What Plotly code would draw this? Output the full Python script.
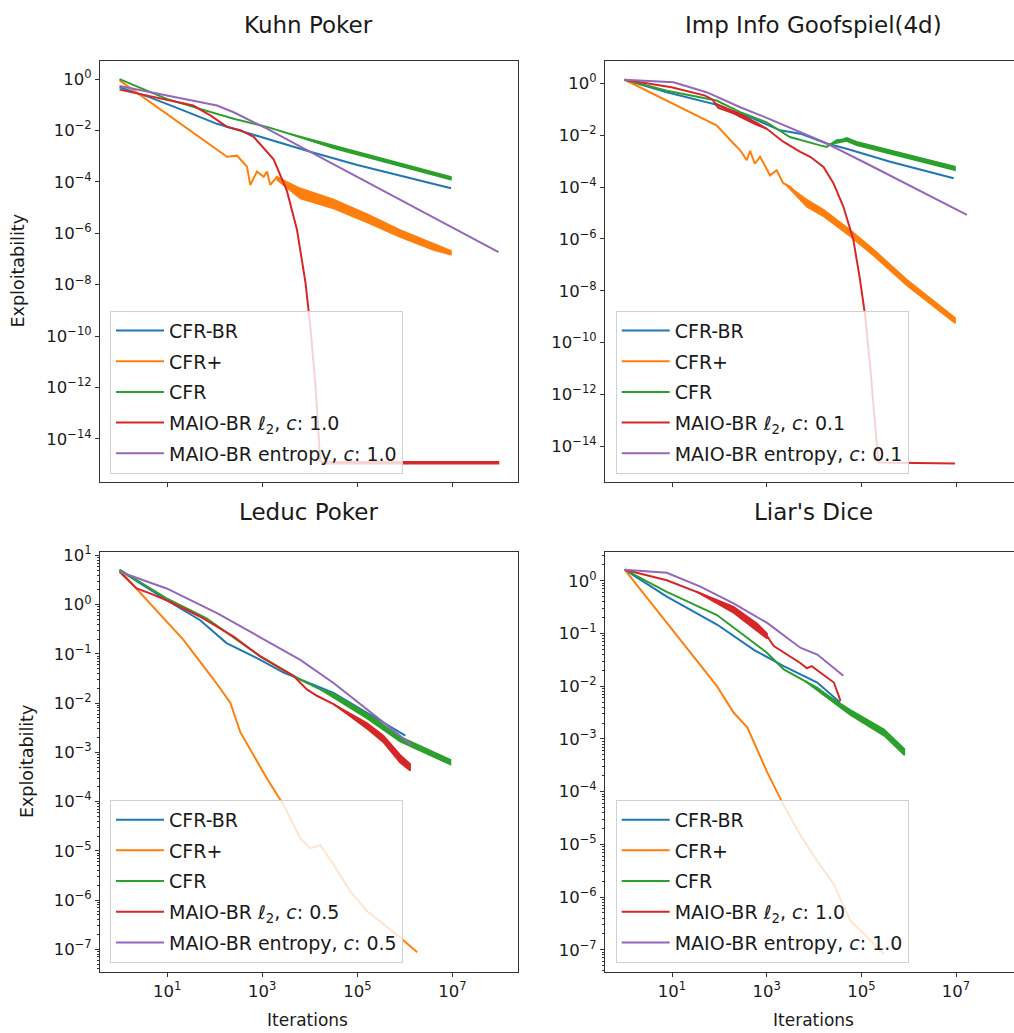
import plotly.graph_objects as go

# ---------------- data: log10(iterations) / log10(exploitability) ----------------
# Kuhn Poker
KUHN_CFRBR_X = [0, 0.64, 1.34, 2.05, 2.4, 3.1, 4.01, 5.0, 6.0, 6.97]
KUHN_CFRBR_Y = [-0.32, -0.71, -1.22, -1.74, -1.93, -2.32, -2.83, -3.34, -3.8, -4.25]
KUHN_CFRP_X = [0, 2.26, 2.47, 2.68, 2.75, 2.89, 3.03, 3.10, 3.17, 3.31, 3.45, 3.8, 4.5, 5.2, 5.9, 6.6, 6.97]
KUHN_CFRP_Y = [-0.05, -3.02, -2.98, -3.41, -4.12, -3.6, -3.8, -3.6, -4.12, -3.8, -4.1, -4.44, -4.85, -5.41, -6.01, -6.53, -6.76]
KUHN_CFR_X = [0, 0.99, 1.69, 2.4, 3.1, 4.01, 5.2, 6.97]
KUHN_CFR_Y = [0, -0.77, -1.16, -1.54, -1.86, -2.38, -3.0, -3.86]
KUHN_L2_X = [0, 0.99, 1.55, 1.91, 2.26, 2.54, 2.82, 3.24, 3.52, 3.73, 3.91, 4.01, 4.12, 4.22, 4.3, 7.97]
KUHN_L2_Y = [-0.41, -0.8, -1.03, -1.41, -1.86, -1.99, -2.25, -3.12, -4.35, -5.85, -7.92, -9.59, -11.9, -14.87, -14.93, -14.93]
KUHN_ENT_X = [0, 0.99, 1.69, 2.05, 2.4, 2.75, 3.1, 4.01, 5.0, 6.0, 7.0, 7.97]
KUHN_ENT_Y = [-0.27, -0.64, -0.9, -1.03, -1.29, -1.61, -1.93, -2.83, -3.8, -4.78, -5.75, -6.73]
KUHN_CFRP_BAND_X = [3.3, 3.8, 4.5, 5.2, 5.9, 6.6, 6.97]
KUHN_CFRP_BAND_HI = [-3.80, -4.25, -4.68, -5.25, -5.87, -6.41, -6.68]
KUHN_CFRP_BAND_LO = [-3.90, -4.65, -5.04, -5.57, -6.15, -6.65, -6.84]
KUHN_CFR_BAND_X = [3.6, 4.5, 5.2, 6.97]
KUHN_CFR_BAND_HI = [-2.14, -2.59, -2.94, -3.80]
KUHN_CFR_BAND_LO = [-2.14, -2.69, -3.06, -3.92]
KUHN_L2_BAND_X = [4.25, 7.97]
KUHN_L2_BAND_HI = [-14.89, -14.89]
KUHN_L2_BAND_LO = [-14.97, -14.97]

# Imp Info Goofspiel(4d)
GOOF_CFRBR_X = [0, 0.89, 1.87, 2.44, 2.72, 3.28, 3.71, 4.27, 4.69, 5.61, 6.95]
GOOF_CFRBR_Y = [0.14, -0.34, -0.79, -1.17, -1.36, -1.81, -1.94, -2.32, -2.52, -3.02, -3.66]
GOOF_CFRP_X = [0, 1.94, 2.30, 2.44, 2.58, 2.65, 2.75, 2.86, 3.0, 3.07, 3.21, 3.35, 3.49, 3.85, 4.2, 4.76, 5.26, 5.96, 6.98]
GOOF_CFRP_Y = [0.14, -1.62, -2.32, -2.58, -2.96, -2.6, -3.1, -2.83, -3.3, -3.55, -3.35, -3.85, -3.98, -4.62, -5.0, -5.77, -6.53, -7.68, -9.15]
GOOF_CFR_X = [0, 0.89, 1.94, 2.44, 3.0, 3.49, 4.13, 4.27, 4.48, 4.69, 4.9, 5.61, 6.98]
GOOF_CFR_Y = [0.14, -0.28, -0.66, -1.11, -1.5, -2.07, -2.39, -2.45, -2.19, -2.16, -2.32, -2.64, -3.28]
GOOF_L2_X = [0, 0.64, 0.99, 1.70, 1.85, 1.98, 2.44, 3.0, 3.35, 3.71, 3.92, 4.2, 4.41, 4.62, 4.83, 4.97, 5.08, 5.19, 5.30, 5.36, 6.98]
GOOF_L2_Y = [0.14, -0.03, -0.15, -0.47, -0.62, -0.95, -1.24, -1.75, -2.25, -2.64, -2.83, -3.22, -3.85, -4.75, -6.02, -7.55, -8.96, -11.0, -13.3, -14.63, -14.66]
GOOF_ENT_X = [0, 1.03, 1.73, 2.44, 3.0, 3.71, 4.2, 5.12, 5.82, 6.53, 7.23]
GOOF_ENT_Y = [0.14, 0.04, -0.34, -0.92, -1.33, -1.88, -2.26, -3.1, -3.75, -4.4, -5.07]
GOOF_CFRP_BAND_X = [3.4, 3.85, 4.2, 4.76, 5.26, 5.96, 6.98]
GOOF_CFRP_BAND_HI = [-3.90, -4.48, -4.87, -5.65, -6.41, -7.57, -9.05]
GOOF_CFRP_BAND_LO = [-3.90, -4.76, -5.13, -5.89, -6.65, -7.79, -9.25]
GOOF_CFR_BAND_X = [4.35, 4.69, 4.9, 5.61, 6.98]
GOOF_CFR_BAND_HI = [-2.35, -2.10, -2.25, -2.57, -3.21]
GOOF_CFR_BAND_LO = [-2.35, -2.22, -2.39, -2.71, -3.35]
GOOF_L2_BAND_X = [1.9, 2.44, 2.8, 3.0]
GOOF_L2_BAND_HI = [-0.75, -1.18, -1.52, -1.75]
GOOF_L2_BAND_LO = [-0.75, -1.30, -1.62, -1.75]

# Leduc Poker
LEDUC_CFRBR_X = [0, 0.99, 1.69, 2.25, 2.96, 3.45, 4.50, 5.20, 6.01]
LEDUC_CFRBR_Y = [0.70, 0.09, -0.31, -0.78, -1.12, -1.38, -1.79, -2.19, -2.66]
LEDUC_CFRP_X = [0, 0.64, 1.34, 1.98, 2.33, 2.54, 3.10, 3.45, 3.80, 4.01, 4.22, 4.50, 4.85, 5.20, 5.90, 6.26]
LEDUC_CFRP_Y = [0.70, 0.03, -0.71, -1.52, -1.99, -2.59, -3.53, -4.07, -4.74, -4.95, -4.88, -5.28, -5.82, -6.22, -6.76, -7.06]
LEDUC_CFR_X = [0, 0.99, 1.83, 2.96, 3.80, 4.50, 5.20, 5.90, 6.96]
LEDUC_CFR_Y = [0.71, 0.13, -0.28, -1.05, -1.52, -1.85, -2.26, -2.73, -3.2]
LEDUC_L2_X = [0, 0.36, 0.64, 0.99, 1.69, 2.4, 2.96, 3.66, 3.94, 4.15, 4.50, 5.20, 5.55, 5.90, 6.11]
LEDUC_L2_Y = [0.67, 0.33, 0.23, 0.09, -0.24, -0.65, -1.05, -1.45, -1.72, -1.85, -2.02, -2.46, -2.73, -3.13, -3.30]
LEDUC_ENT_X = [0, 0.99, 2.05, 3.10, 3.80, 4.50, 5.20, 5.55, 6.15]
LEDUC_ENT_Y = [0.67, 0.33, -0.17, -0.75, -1.12, -1.59, -2.12, -2.39, -2.86]
LEDUC_CFR_BAND_X = [4.2, 4.5, 5.2, 5.9, 6.96]
LEDUC_CFR_BAND_HI = [-1.71, -1.81, -2.21, -2.68, -3.15]
LEDUC_CFR_BAND_LO = [-1.71, -1.89, -2.31, -2.78, -3.25]
LEDUC_L2_BAND_X = [4.5, 5.2, 5.55, 5.9, 6.11]
LEDUC_L2_BAND_HI = [-2.02, -2.40, -2.66, -3.05, -3.23]
LEDUC_L2_BAND_LO = [-2.02, -2.52, -2.80, -3.21, -3.37]

# Liar's Dice
LIAR_CFRBR_X = [0, 0.89, 1.95, 2.73, 3.36, 4.07, 4.55]
LIAR_CFRBR_Y = [0.21, -0.30, -0.83, -1.31, -1.62, -1.93, -2.31]
LIAR_CFRP_X = [0, 0.89, 1.95, 2.30, 2.59, 3.01, 3.36, 3.71, 4.07, 4.42, 4.77, 5.48]
LIAR_CFRP_Y = [0.21, -0.80, -2.0, -2.50, -2.78, -3.63, -4.26, -4.82, -5.32, -5.76, -6.45, -7.08]
LIAR_CFR_X = [0, 0.89, 1.95, 2.45, 3.01, 3.36, 4.07, 4.77, 5.48, 5.91]
LIAR_CFR_Y = [0.21, -0.21, -0.65, -0.99, -1.37, -1.68, -2.03, -2.50, -2.88, -3.25]
LIAR_L2_X = [0, 0.89, 1.60, 2.30, 2.8, 3.01, 3.15, 3.71, 3.85, 3.95, 4.42, 4.56]
LIAR_L2_Y = [0.21, 0.01, -0.24, -0.55, -0.88, -1.05, -1.24, -1.56, -1.66, -1.62, -1.93, -2.28]
LIAR_ENT_X = [0, 0.89, 1.60, 2.30, 3.01, 3.71, 4.07, 4.62]
LIAR_ENT_Y = [0.21, 0.15, -0.11, -0.43, -0.80, -1.27, -1.40, -1.80]
LIAR_CFR_BAND_X = [3.8, 4.77, 5.48, 5.91]
LIAR_CFR_BAND_HI = [-1.90, -2.45, -2.82, -3.19]
LIAR_CFR_BAND_LO = [-1.90, -2.55, -2.94, -3.31]
LIAR_L2_BAND_X = [1.5, 2.3, 2.8, 3.01]
LIAR_L2_BAND_HI = [-0.20, -0.49, -0.81, -1.00]
LIAR_L2_BAND_LO = [-0.20, -0.61, -0.95, -1.10]

TITLES = ["Kuhn Poker", "Imp Info Goofspiel(4d)", "Leduc Poker", "Liar's Dice"]
C_VALUES = ["1.0", "0.1", "0.5", "1.0"]
X_TICKS = [1, 3, 5, 7]
Y_TICKS_TOP = [0, -2, -4, -6, -8, -10, -12, -14]
Y_TICKS_LEDUC = [1, 0, -1, -2, -3, -4, -5, -6, -7]
Y_TICKS_LIAR = [0, -1, -2, -3, -4, -5, -6, -7]

COLORS = ["#1f77b4", "#ff7f0e", "#2ca02c", "#d62728", "#9467bd"]
FONT = "DejaVu Sans"
TXT = "#1a1a1a"
W, H = 1014, 1033

fig = go.Figure()


def p(v):
    return [10 ** a for a in v]


def add_line(xs, ys, color, name, k):
    fig.add_trace(go.Scatter(
        x=p(xs), y=p(ys), mode="lines", name=name,
        line=dict(color=color, width=2),
        xaxis="x" if k == 1 else f"x{k}", yaxis="y" if k == 1 else f"y{k}",
        legend="legend" if k == 1 else f"legend{k}",
        legendgroup=f"g{k}_{name}", showlegend=True))


def add_band(xs, hi, lo, color, k):
    fig.add_trace(go.Scatter(
        x=p(xs) + p(xs[::-1]), y=p(hi) + p(lo[::-1]), mode="lines",
        fill="toself", fillcolor=color, line=dict(color=color, width=1.5),
        hoverinfo="skip", showlegend=False,
        xaxis="x" if k == 1 else f"x{k}", yaxis="y" if k == 1 else f"y{k}"))


panels = [
    (1, [(KUHN_CFRBR_X, KUHN_CFRBR_Y, None),
         (KUHN_CFRP_X, KUHN_CFRP_Y, (KUHN_CFRP_BAND_X, KUHN_CFRP_BAND_HI, KUHN_CFRP_BAND_LO)),
         (KUHN_CFR_X, KUHN_CFR_Y, (KUHN_CFR_BAND_X, KUHN_CFR_BAND_HI, KUHN_CFR_BAND_LO)),
         (KUHN_L2_X, KUHN_L2_Y, (KUHN_L2_BAND_X, KUHN_L2_BAND_HI, KUHN_L2_BAND_LO)),
         (KUHN_ENT_X, KUHN_ENT_Y, None)]),
    (2, [(GOOF_CFRBR_X, GOOF_CFRBR_Y, None),
         (GOOF_CFRP_X, GOOF_CFRP_Y, (GOOF_CFRP_BAND_X, GOOF_CFRP_BAND_HI, GOOF_CFRP_BAND_LO)),
         (GOOF_CFR_X, GOOF_CFR_Y, (GOOF_CFR_BAND_X, GOOF_CFR_BAND_HI, GOOF_CFR_BAND_LO)),
         (GOOF_L2_X, GOOF_L2_Y, (GOOF_L2_BAND_X, GOOF_L2_BAND_HI, GOOF_L2_BAND_LO)),
         (GOOF_ENT_X, GOOF_ENT_Y, None)]),
    (3, [(LEDUC_CFRBR_X, LEDUC_CFRBR_Y, None),
         (LEDUC_CFRP_X, LEDUC_CFRP_Y, None),
         (LEDUC_CFR_X, LEDUC_CFR_Y, (LEDUC_CFR_BAND_X, LEDUC_CFR_BAND_HI, LEDUC_CFR_BAND_LO)),
         (LEDUC_L2_X, LEDUC_L2_Y, (LEDUC_L2_BAND_X, LEDUC_L2_BAND_HI, LEDUC_L2_BAND_LO)),
         (LEDUC_ENT_X, LEDUC_ENT_Y, None)]),
    (4, [(LIAR_CFRBR_X, LIAR_CFRBR_Y, None),
         (LIAR_CFRP_X, LIAR_CFRP_Y, None),
         (LIAR_CFR_X, LIAR_CFR_Y, (LIAR_CFR_BAND_X, LIAR_CFR_BAND_HI, LIAR_CFR_BAND_LO)),
         (LIAR_L2_X, LIAR_L2_Y, (LIAR_L2_BAND_X, LIAR_L2_BAND_HI, LIAR_L2_BAND_LO)),
         (LIAR_ENT_X, LIAR_ENT_Y, None)]),
]

for k, series in panels:
    c = C_VALUES[k - 1]
    names = ["CFR-BR", "CFR+", "CFR",
             f"MAIO-BR ℓ<sub>2</sub>, <i>c</i>: {c}",
             f"MAIO-BR entropy, <i>c</i>: {c}"]
    for i, (xs, ys, band) in enumerate(series):
        add_line(xs, ys, COLORS[i], names[i], k)
        if band is not None:
            add_band(band[0], band[1], band[2], COLORS[i], k)


def sup(e):
    s = str(e).replace("-", "\u2212")
    return f"10<sup>{s}</sup>"


# pixel geometry
LEFT_X = (100, 517.5)
RIGHT_X = (605, 1014)
TOP_Y = (53, 478)
BOT_Y = (548, 972)
X_RANGE_L = [-0.4105, 8.368]
X_RANGE_R = [-0.4156, 8.225]


def dom_x(a):
    return [a[0] / W, a[1] / W]


def dom_y(a):
    return [1 - a[1] / H, 1 - a[0] / H]


tickfont = dict(family=FONT, size=16.5, color=TXT)
common = dict(type="log", showline=True, linecolor="#333333", linewidth=1,
              showgrid=False, zeroline=False, ticks="outside", ticklen=4,
              tickwidth=1, tickcolor="#333333", tickfont=tickfont)

layout_axes = {}
for k in range(1, 5):
    xn = "xaxis" if k == 1 else f"xaxis{k}"
    yn = "yaxis" if k == 1 else f"yaxis{k}"
    left = k in (1, 3)
    top = k in (1, 2)
    layout_axes[xn] = dict(common, domain=dom_x(LEFT_X if left else RIGHT_X),
                           range=X_RANGE_L if left else X_RANGE_R,
                           anchor="y" if k == 1 else f"y{k}",
                           tickvals=[10 ** t for t in X_TICKS],
                           ticktext=[sup(t) for t in X_TICKS],
                           showticklabels=not top, mirror=True)
    if top:
        yt = Y_TICKS_TOP
        yr = [-15.69, 0.72] if k == 1 else [-15.39, 0.88]
        minor = None
    else:
        yt = Y_TICKS_LEDUC if k == 3 else Y_TICKS_LIAR
        yr = [-7.47, 1.075] if k == 3 else [-7.43, 0.55]
        minor = dict(ticks="outside", ticklen=2, tickwidth=0.8, tickcolor="#333333",
                     tickvals=[m * 10 ** e for e in range(-8, 2) for m in range(2, 10)])
    yd = dict(common, domain=dom_y(TOP_Y if top else BOT_Y), range=yr,
              anchor="x" if k == 1 else f"x{k}",
              tickvals=[10 ** t for t in yt], ticktext=[sup(t) for t in yt],
              mirror=left)
    if minor:
        yd["minor"] = minor
    layout_axes[yn] = yd

legend_style = dict(bgcolor="rgba(255,255,255,0.8)", bordercolor="#d0d0d0", borderwidth=1,
                    font=dict(family=FONT, size=19, color=TXT), xanchor="left", yanchor="top",
                    itemwidth=48, tracegroupgap=3, traceorder="grouped")
legend_pos = {1: (110, 305), 2: (615.7, 305), 3: (110, 798), 4: (615.7, 798)}
legends = {}
for k, (lx, ly) in legend_pos.items():
    nm = "legend" if k == 1 else f"legend{k}"
    legends[nm] = dict(legend_style, x=lx / W, y=1 - ly / H)

annotations = []
title_pos = [(308.5, 17), (813.5, 17), (308.5, 508), (813.5, 508)]
for t, (tx, ty) in zip(TITLES, title_pos):
    annotations.append(dict(text=t, x=tx / W, y=1 - ty / H, xref="paper", yref="paper",
                            showarrow=False, xanchor="center", yanchor="middle",
                            font=dict(family=FONT, size=23, color=TXT)))
for (lx, ly) in [(18, 265.5), (27, 760)]:
    annotations.append(dict(text="Exploitability", x=lx / W, y=1 - ly / H, xref="paper", yref="paper",
                            showarrow=False, textangle=-90, xanchor="center", yanchor="middle",
                            font=dict(family=FONT, size=17.5, color=TXT)))
for lx in [307.5, 813.5]:
    annotations.append(dict(text="Iterations", x=lx / W, y=1 - 1020 / H, xref="paper", yref="paper",
                            showarrow=False, xanchor="center", yanchor="middle",
                            font=dict(family=FONT, size=17, color=TXT)))

fig.update_layout(width=W, height=H, margin=dict(l=0, r=0, t=0, b=0),
                  paper_bgcolor="white", plot_bgcolor="white",
                  font=dict(family=FONT, color=TXT),
                  annotations=annotations, **layout_axes, **legends)

fig.write_html("out.html", config={"displayModeBar": False},
               post_script="document.body.style.margin='0px';document.body.style.overflow='hidden';")
